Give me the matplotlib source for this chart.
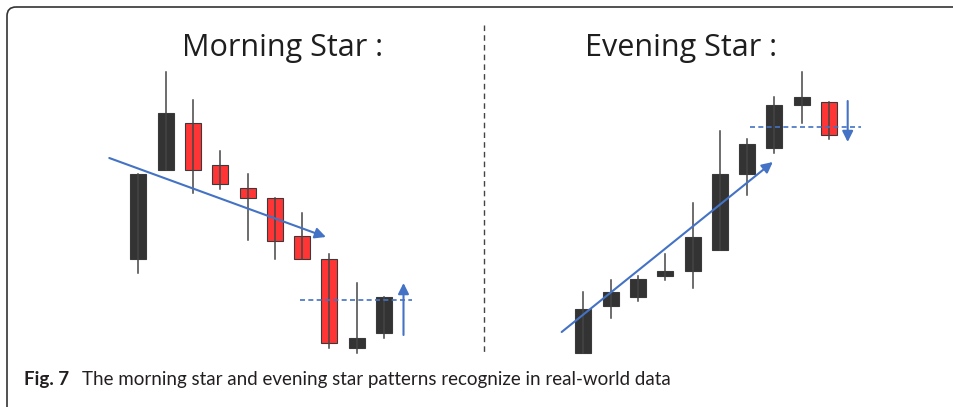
import matplotlib
matplotlib.use("Agg")
import matplotlib.pyplot as plt
from matplotlib.patches import Rectangle, FancyBboxPatch

# candle data (price units), index 0..9
morning_open = [141, 230, 277, 235, 212, 202, 164, 141, 52, 67]
morning_close = [226, 287, 230, 216, 202, 159, 141, 57, 62, 103]
morning_high = [226, 328, 300, 249, 226, 202, 187, 146, 117, 103]
morning_low = [127, 230, 207, 211, 160, 141, 141, 52, 47, 62]

evening_open = [47, 94, 103, 124, 129, 150, 226, 252, 295, 298]
evening_close = [91, 108, 121, 129, 163, 226, 256, 295, 303, 265]
evening_high = [108, 120, 124, 146, 197, 269, 261, 303, 328, 298]
evening_low = [47, 82, 99, 120, 112, 150, 205, 247, 277, 261]

# trend arrows / signal lines
morning_trend = [(-1.06, 242), (6.87, 163)]
morning_level = 100
morning_level_x = [5.92, 10.01]
morning_signal = [(9.71, 65), (9.71, 117)]

evening_trend = [(-0.79, 68), (6.94, 238)]
evening_level = 273
evening_level_x = [6.10, 10.16]
evening_signal = [(9.68, 299), (9.68, 258)]

W, H = 954, 407
BLUE = "#4472c4"
UP = "#333333"
DOWN = "#ff3535"

fig = plt.figure(figsize=(W / 100, H / 100), dpi=100)

# background axes in pixel space for frame and text
bg = fig.add_axes([0, 0, 1, 1])
bg.set_xlim(0, W)
bg.set_ylim(H, 0)
bg.axis("off")
bg.add_patch(FancyBboxPatch((7, 7), 1100, 500, boxstyle="round,pad=0,rounding_size=9",
                            fill=False, edgecolor="#333333", lw=1.2))
bg.plot([484, 484], [25, 352], color="#444444", lw=1, dashes=(4, 3))
bg.text(283, 56, "Morning Star :", fontsize=22, family="Open Sans",
        ha="center", va="baseline", color="#1e1e1e")
bg.text(681, 56, "Evening Star :", fontsize=22, family="Open Sans",
        ha="center", va="baseline", color="#1e1e1e")
bg.text(24, 385, "Fig. 7", fontsize=13.5, family="Lato", weight="bold",
        ha="left", va="baseline", color="#231f20")
bg.text(82, 385, "The morning star and evening star patterns recognize in real-world data",
        fontsize=13.5, family="Lato", ha="left", va="baseline", color="#231f20")


def draw_panel(ax, o, c, h, l, trend, level, level_x, signal):
    w = 16 / 27.3
    for i in range(len(o)):
        col = UP if c[i] >= o[i] else DOWN
        lo, hi = min(o[i], c[i]), max(o[i], c[i])
        ax.add_patch(Rectangle((i - w / 2, lo), w, hi - lo, facecolor=col,
                               edgecolor="#3a3a3a", lw=0.8, zorder=2))
        ax.plot([i, i], [l[i], h[i]], color="#454545", lw=1.1, zorder=3)
    ax.annotate("", xy=trend[1], xytext=trend[0],
                arrowprops=dict(arrowstyle="-|>", color=BLUE, lw=1.5,
                                mutation_scale=16, shrinkA=0, shrinkB=0), zorder=4)
    ax.plot(level_x, [level, level], color=BLUE, lw=1.2, dashes=(3, 2), zorder=4)
    ax.annotate("", xy=signal[1], xytext=signal[0],
                arrowprops=dict(arrowstyle="-|>", color=BLUE, lw=1.5,
                                mutation_scale=16, shrinkA=0, shrinkB=0), zorder=4)
    ax.set_xlim(-1.40, 10.68)
    ax.set_ylim(40, 340)
    ax.axis("off")


pos_y = (H - 360) / H
pos_h = 300 / H
ax1 = fig.add_axes([100 / W, pos_y, 330 / W, pos_h])
ax1.patch.set_alpha(0)
draw_panel(ax1, morning_open, morning_close, morning_high, morning_low,
           morning_trend, morning_level, morning_level_x, morning_signal)
ax2 = fig.add_axes([545 / W, pos_y, 330 / W, pos_h])
ax2.patch.set_alpha(0)
draw_panel(ax2, evening_open, evening_close, evening_high, evening_low,
           evening_trend, evening_level, evening_level_x, evening_signal)

fig.savefig("out.png", dpi=100)
